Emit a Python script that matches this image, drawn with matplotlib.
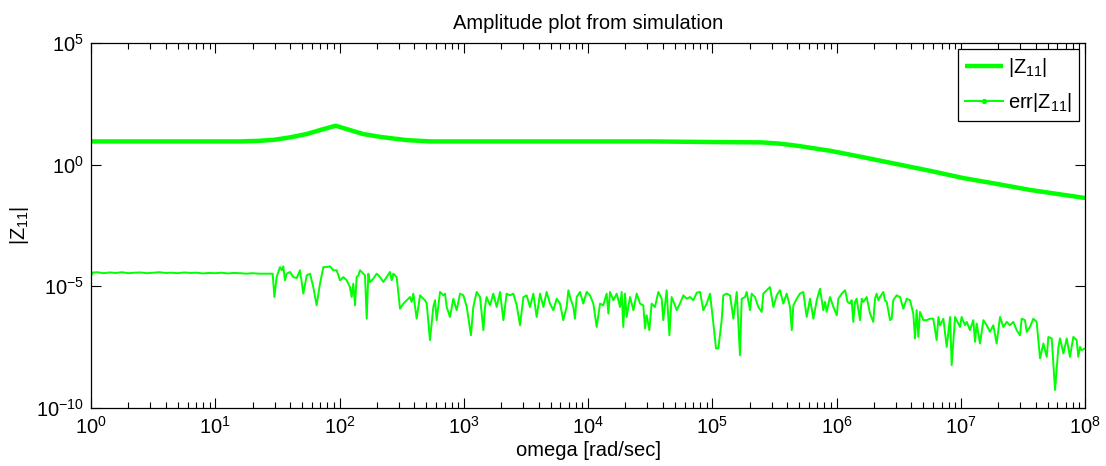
import numpy as np
import matplotlib
matplotlib.use("Agg")
import matplotlib.pyplot as plt
from matplotlib.ticker import LogLocator, NullLocator, LogFormatterMathtext

plt.rcParams['font.family'] = ['Liberation Sans', 'DejaVu Sans']
plt.rcParams['mathtext.fontset'] = 'custom'
plt.rcParams['mathtext.rm'] = 'Liberation Sans'
plt.rcParams['mathtext.it'] = 'Liberation Sans'
plt.rcParams['axes.unicode_minus'] = False

title = "Amplitude plot from simulation"
xlabel = "omega [rad/sec]"
ylabel = "|Z$_{11}$|"
labels = ["|Z$_{11}$|", "err|Z$_{11}$|"]

# |Z11| : (log10 omega, log10 |Z11|)
z_points = [
    (0.00, 0.955), (0.60, 0.955), (1.20, 0.955), (1.35, 0.98), (1.47, 1.02),
    (1.60, 1.12), (1.736, 1.26), (1.87, 1.46), (1.97, 1.60), (2.085, 1.42),
    (2.19, 1.26), (2.33, 1.14), (2.41, 1.09), (2.54, 1.01), (2.73, 0.955),
    (3.50, 0.955), (4.50, 0.955), (5.00, 0.93), (5.40, 0.915), (5.55, 0.86),
    (5.68, 0.78), (5.95, 0.57), (6.22, 0.30), (6.48, 0.03), (6.75, -0.25),
    (7.02, -0.55), (7.29, -0.79), (7.56, -1.04), (7.80, -1.22), (8.00, -1.37),
]

# err|Z11| : (log10 omega, log10 err)
err_points = [
    (0.00, -4.44), (0.05, -4.42), (0.10, -4.46), (0.15, -4.43), (0.20, -4.45),
    (0.25, -4.42), (0.30, -4.46), (0.35, -4.44), (0.40, -4.43), (0.45, -4.46),
    (0.50, -4.44), (0.55, -4.42), (0.60, -4.45), (0.65, -4.44), (0.70, -4.46),
    (0.75, -4.43), (0.80, -4.45), (0.85, -4.44), (0.90, -4.47), (0.95, -4.45),
    (1.00, -4.46), (1.05, -4.44), (1.10, -4.47), (1.15, -4.45), (1.20, -4.46),
    (1.25, -4.48), (1.30, -4.46), (1.35, -4.48), (1.414, -4.48), (1.462, -4.48),
    (1.476, -5.44), (1.494, -4.62), (1.521, -4.21), (1.535, -4.34), (1.548, -4.18),
    (1.561, -4.75), (1.575, -4.48), (1.602, -4.41), (1.628, -4.62), (1.655, -4.66),
    (1.682, -4.34), (1.709, -5.30), (1.736, -4.55), (1.763, -4.48), (1.789, -5.03),
    (1.816, -5.78), (1.843, -4.89), (1.870, -4.21), (1.897, -4.21), (1.924, -4.18),
    (1.950, -4.34), (1.977, -4.34), (2.004, -4.75), (2.031, -4.62), (2.058, -4.75),
    (2.084, -5.03), (2.098, -5.44), (2.111, -4.89), (2.125, -5.78), (2.138, -4.62),
    (2.152, -4.55), (2.165, -4.34), (2.178, -4.41), (2.192, -4.48), (2.205, -4.55),
    (2.219, -6.33), (2.232, -4.48), (2.245, -4.82), (2.272, -4.69), (2.299, -4.48),
    (2.326, -4.62), (2.353, -4.82), (2.380, -4.62), (2.406, -4.41), (2.420, -4.75),
    (2.433, -4.48), (2.460, -4.62), (2.487, -5.92), (2.514, -5.71), (2.541, -5.57),
    (2.567, -5.44), (2.581, -5.64), (2.594, -5.30), (2.621, -6.33), (2.648, -5.37),
    (2.675, -5.51), (2.688, -5.57), (2.702, -5.71), (2.728, -7.21), (2.755, -5.85),
    (2.769, -5.57), (2.782, -6.39), (2.809, -5.23), (2.836, -5.37), (2.849, -5.30),
    (2.863, -5.85), (2.889, -6.26), (2.916, -5.51), (2.943, -5.98), (2.970, -5.30),
    (2.997, -5.37), (3.024, -5.85), (3.058, -7.01), (3.077, -5.85), (3.104, -5.23),
    (3.131, -5.44), (3.158, -6.80), (3.171, -5.85), (3.184, -5.44), (3.211, -5.78),
    (3.238, -5.30), (3.265, -5.85), (3.292, -5.23), (3.319, -6.39), (3.345, -5.30),
    (3.372, -5.37), (3.399, -5.30), (3.426, -5.78), (3.453, -6.60), (3.480, -5.44),
    (3.506, -5.37), (3.533, -5.85), (3.560, -5.30), (3.587, -6.26), (3.614, -5.30),
    (3.641, -5.85), (3.667, -5.23), (3.694, -5.71), (3.721, -5.98), (3.748, -5.51),
    (3.775, -5.71), (3.801, -6.39), (3.828, -5.85), (3.842, -5.16), (3.855, -5.44),
    (3.882, -5.85), (3.895, -6.33), (3.909, -5.44), (3.936, -5.23), (3.962, -5.71),
    (3.989, -5.23), (4.016, -5.37), (4.043, -5.71), (4.070, -6.67), (4.097, -5.71),
    (4.123, -5.78), (4.150, -5.30), (4.164, -6.12), (4.177, -5.23), (4.204, -5.57),
    (4.231, -5.30), (4.258, -5.85), (4.271, -5.23), (4.284, -6.67), (4.298, -5.30),
    (4.311, -6.26), (4.338, -5.44), (4.365, -5.98), (4.392, -5.30), (4.419, -5.71),
    (4.445, -5.78), (4.459, -6.73), (4.472, -6.19), (4.494, -6.80), (4.512, -5.71),
    (4.539, -5.85), (4.566, -5.23), (4.593, -5.51), (4.606, -6.39), (4.633, -5.16),
    (4.655, -7.01), (4.673, -5.44), (4.700, -5.78), (4.714, -5.98), (4.740, -5.71),
    (4.767, -5.37), (4.794, -5.51), (4.821, -5.44), (4.848, -5.57), (4.875, -5.26),
    (4.902, -5.23), (4.928, -5.98), (4.955, -5.71), (4.982, -5.30), (5.009, -6.53),
    (5.030, -7.55), (5.049, -7.55), (5.076, -6.39), (5.089, -5.37), (5.116, -5.30),
    (5.143, -5.37), (5.170, -6.33), (5.197, -5.23), (5.223, -7.83), (5.237, -5.51),
    (5.264, -5.44), (5.277, -5.23), (5.304, -5.98), (5.317, -5.30), (5.344, -5.44),
    (5.371, -5.85), (5.398, -6.05), (5.411, -5.30), (5.438, -5.16), (5.465, -5.03),
    (5.492, -5.85), (5.519, -5.37), (5.545, -5.16), (5.572, -5.71), (5.599, -5.30),
    (5.626, -5.85), (5.640, -6.80), (5.653, -5.78), (5.680, -5.51), (5.706, -5.30),
    (5.733, -5.23), (5.760, -6.26), (5.787, -5.51), (5.814, -6.33), (5.841, -5.57),
    (5.867, -5.10), (5.894, -5.98), (5.908, -5.64), (5.921, -6.05), (5.948, -5.44),
    (5.975, -5.85), (6.002, -6.19), (6.015, -5.51), (6.042, -5.30), (6.069, -5.16),
    (6.089, -5.64), (6.109, -5.71), (6.122, -5.57), (6.135, -6.46), (6.149, -5.64),
    (6.162, -5.51), (6.189, -6.39), (6.203, -5.51), (6.216, -5.64), (6.243, -5.44),
    (6.256, -5.78), (6.270, -6.12), (6.296, -6.46), (6.310, -5.51), (6.323, -5.30),
    (6.337, -5.57), (6.350, -5.44), (6.377, -5.23), (6.390, -5.57), (6.404, -5.64),
    (6.431, -6.39), (6.444, -6.33), (6.457, -5.57), (6.484, -5.37), (6.511, -5.44),
    (6.538, -5.92), (6.565, -5.51), (6.592, -5.57), (6.618, -6.12), (6.632, -7.14),
    (6.645, -5.98), (6.659, -7.08), (6.672, -6.05), (6.699, -6.39), (6.726, -6.39),
    (6.753, -6.33), (6.779, -6.33), (6.806, -7.21), (6.820, -6.26), (6.833, -6.60),
    (6.860, -6.33), (6.887, -7.49), (6.914, -6.26), (6.927, -8.24), (6.954, -6.26),
    (6.967, -6.39), (6.994, -6.67), (7.007, -6.26), (7.034, -6.60), (7.048, -6.46),
    (7.074, -6.80), (7.101, -6.39), (7.115, -7.28), (7.128, -6.53), (7.155, -7.35),
    (7.182, -6.39), (7.209, -6.60), (7.235, -6.87), (7.262, -6.60), (7.289, -7.35),
    (7.316, -6.26), (7.343, -6.67), (7.370, -6.46), (7.396, -6.60), (7.423, -6.46),
    (7.450, -6.80), (7.477, -7.01), (7.490, -6.33), (7.517, -6.39), (7.531, -6.87),
    (7.557, -6.67), (7.584, -6.33), (7.611, -6.46), (7.638, -7.96), (7.665, -7.35),
    (7.692, -7.90), (7.705, -7.08), (7.732, -7.14), (7.759, -9.26), (7.786, -7.49),
    (7.799, -7.14), (7.826, -7.76), (7.853, -7.14), (7.879, -7.90), (7.906, -7.08),
    (7.933, -7.21), (7.946, -7.90), (7.960, -7.49), (7.973, -7.62), (8.000, -7.55),
]

x_limits = (1e0, 1e8)
y_limits = (1e-10, 1e5)
y_ticks = [1e-10, 1e-5, 1e0, 1e5]

z_exp_w = np.array([p[0] for p in z_points])
z_exp_v = np.array([p[1] for p in z_points])
e_exp_w = np.array([p[0] for p in err_points])
e_exp_v = np.array([p[1] for p in err_points])

color = '#00ff00'
fs = 14.5

fig = plt.figure(figsize=(11.06, 4.66), dpi=100)
ax = fig.add_axes([91/1106, (466-408)/466, (1085-91)/1106, (408-43)/466])

ax.loglog(10**z_exp_w, 10**z_exp_v, color=color, lw=3.2, label=labels[0], solid_capstyle='butt')
ax.loglog(10**e_exp_w, 10**e_exp_v, color=color, lw=1.4, marker='.', ms=3.5,
          markevery=1000, label=labels[1])

ax.set_xlim(*x_limits)
ax.set_ylim(*y_limits)
ax.set_yticks(y_ticks)
ax.yaxis.set_minor_locator(NullLocator())
ax.yaxis.set_major_formatter(LogFormatterMathtext())
ax.xaxis.set_major_locator(LogLocator(base=10, numticks=20))
ax.xaxis.set_minor_locator(LogLocator(base=10, subs=np.arange(2, 10), numticks=20))

ax.tick_params(which='both', direction='in', top=True, right=True, labelsize=fs, colors='black')
ax.tick_params(which='major', length=7, width=0.8)
ax.tick_params(axis='x', which='major', pad=6)
ax.tick_params(axis='y', which='major', pad=5)
ax.tick_params(which='minor', length=4, width=0.8)
for s in ax.spines.values():
    s.set_linewidth(0.9)
    s.set_color('black')

ax.set_title(title, fontsize=fs, pad=10)
ax.set_xlabel(xlabel, fontsize=fs, labelpad=2)
ax.set_ylabel(ylabel, fontsize=fs, labelpad=4)

leg = ax.legend(loc='upper right', fontsize=fs, frameon=True, fancybox=False,
                edgecolor='black', framealpha=1, borderaxespad=0.3,
                handlelength=1.9, handletextpad=0.25, labelspacing=0.6, borderpad=0.35,
                markerscale=1.6)
leg.get_frame().set_linewidth(0.9)

fig.savefig('out.png', dpi=100)
